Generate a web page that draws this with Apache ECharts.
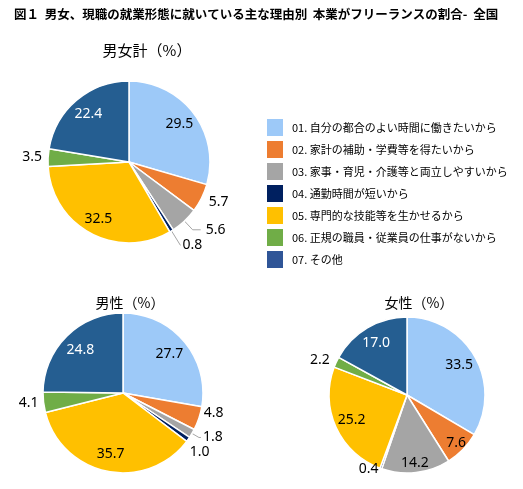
<!DOCTYPE html>
<html>
<head>
<meta charset="utf-8">
<script src="https://cdn.jsdelivr.net/npm/echarts@6/dist/echarts.min.js"></script>
<style>
html,body{margin:0;padding:0;background:#fff;}
#main{width:523px;height:489px;}
</style>
</head>
<body>
<div id="main"></div>
<script>
// ---- data ----
const categories = [
  '01. 自分の都合のよい時間に働きたいから',
  '02. 家計の補助・学費等を得たいから',
  '03. 家事・育児・介護等と両立しやすいから',
  '04. 通勤時間が短いから',
  '05. 専門的な技能等を生かせるから',
  '06. 正規の職員・従業員の仕事がないから',
  '07. その他'
];
const totalValues  = [29.5, 5.7, 5.6, 0.8, 32.5, 3.5, 22.4];
const maleValues   = [27.7, 4.8, 1.8, 1.0, 35.7, 4.1, 24.8];
const femaleValues = [33.5, 7.6, 14.2, 0.4, 25.2, 2.2, 17.0];
const mainTitle = '図１  男女、現職の就業形態に就いている主な理由別  本業がフリーランスの割合-  全国';
const chartTitles = ['男女計（%）', '男性（%）', '女性（%）'];

// ---- style ----
const sliceColors  = ['#9DC9F8', '#ED7D31', '#A5A5A5', '#002060', '#FFC000', '#70AD47', '#255E91'];
const legendColors = ['#9DC9F8', '#ED7D31', '#A5A5A5', '#002060', '#FFC000', '#70AD47', '#2F5597'];
const labelColors  = ['#000', '#000', '#000', '#000', '#000', '#000', '#fff'];
const FONT_JP = '"Noto Sans CJK JP", sans-serif';
const FONT_NUM = '"Noto Sans", "Open Sans", sans-serif';

// label spec: in = radial ratio for inside labels; out = [length, length2, distance], line = show leader, shift=[dx,dy]
const pies = [
  { values: totalValues, center: [129, 162], r: 81,
    title: [147, 50, 15],
    labels: [
      { in: 0.74 }, { out: [8, 0, 0], line: false }, { out: [12, 8, 5], line: true },
      { out: [17, 0, 2], line: true }, { in: 0.76 }, { out: [4, 0, 2], line: false }, { in: 0.74 }
    ] },
  { values: maleValues, center: [123, 393], r: 80,
    title: [130, 303, 14],
    labels: [
      { in: 0.72 }, { out: [2, 0, 3], line: false, shift: [0, -6] }, { out: [8, 2, 2], line: true },
      { out: [2, 0, 2], line: false, shift: [-2, 12] }, { in: 0.74 }, { out: [4, 0, 1], line: false }, { in: 0.72 }
    ] },
  { values: femaleValues, center: [407, 395], r: 78,
    title: [419, 303, 14],
    labels: [
      { in: 0.73 }, { in: 0.84 }, { in: 0.84 },
      { out: [1, 0, 2], line: false }, { in: 0.74 }, { out: [5, 0, 2], line: false }, { in: 0.74 }
    ] }
];

const series = [];
const graphics = [{
  type: 'text', left: 14, top: 8,
  style: { text: mainTitle, font: 'bold 12.5px ' + FONT_JP, fill: '#000' }
}];

pies.forEach(function (p, pi) {
  graphics.push({
    type: 'text', x: p.title[0], y: p.title[1],
    style: { text: chartTitles[pi], font: p.title[2] + 'px ' + FONT_JP, fill: '#000',
             textAlign: 'center', textVerticalAlign: 'middle' }
  });
  // main slices with outside labels
  series.push({
    type: 'pie', center: p.center, radius: p.r, startAngle: 90, clockwise: true,
    avoidLabelOverlap: false, animation: false,
    emphasis: { disabled: true },
    itemStyle: { borderColor: '#fff', borderWidth: 1.5 },
    label: { show: false },
    labelLine: { show: false },
    labelLayout: function (params) {
      const s = p.labels[params.dataIndex].shift;
      return s ? { dx: s[0], dy: s[1] } : {};
    },
    data: p.values.map(function (v, i) {
      const spec = p.labels[i];
      const item = { name: categories[i], value: v, itemStyle: { color: sliceColors[i] } };
      if (spec.out) {
        item.label = {
          show: true, position: 'outside', distanceToLabelLine: spec.out[2],
          formatter: function (q) { return q.value.toFixed(1); },
          color: '#000', fontSize: 14, fontFamily: FONT_NUM, lineHeight: 14
        };
        item.labelLine = {
          show: spec.line, length: spec.out[0], length2: spec.out[1], smooth: false,
          lineStyle: { color: '#A6A6A6', width: 1 }
        };
      }
      return item;
    })
  });
  // invisible ring series carrying inside labels at chosen radial ratio
  const ratios = [];
  p.labels.forEach(function (s) { if (s.in && ratios.indexOf(s.in) < 0) ratios.push(s.in); });
  ratios.forEach(function (ratio) {
    const r0 = (2 * ratio - 1) * p.r;
    series.push({
      type: 'pie', center: p.center, radius: [r0, p.r], startAngle: 90, clockwise: true,
      silent: true, animation: false, avoidLabelOverlap: false,
      emphasis: { disabled: true },
      itemStyle: { color: 'rgba(0,0,0,0)', borderWidth: 0 },
      labelLine: { show: false },
      label: { show: false },
      data: p.values.map(function (v, i) {
        const show = p.labels[i].in === ratio;
        return {
          name: categories[i], value: v,
          itemStyle: { color: 'rgba(0,0,0,0)' },
          label: {
            show: show, position: 'inside',
            formatter: function (q) { return q.value.toFixed(1); },
            color: labelColors[i], fontSize: 14, fontFamily: FONT_NUM
          }
        };
      })
    });
  });
});

const chart = echarts.init(document.getElementById('main'), null, { renderer: 'canvas' });
chart.setOption({
  animation: false,
  backgroundColor: '#fff',
  legend: {
    orient: 'vertical', left: 262, top: 114,
    itemWidth: 16, itemHeight: 17, itemGap: 5,
    selectedMode: false, icon: 'rect',
    textStyle: { fontSize: 11, color: '#000', fontFamily: FONT_JP, padding: [0, 0, 0, 4] },
    data: categories.map(function (c, i) {
      return { name: c, itemStyle: { color: legendColors[i], borderWidth: 0 } };
    })
  },
  graphic: graphics,
  series: series
});
</script>
</body>
</html>
